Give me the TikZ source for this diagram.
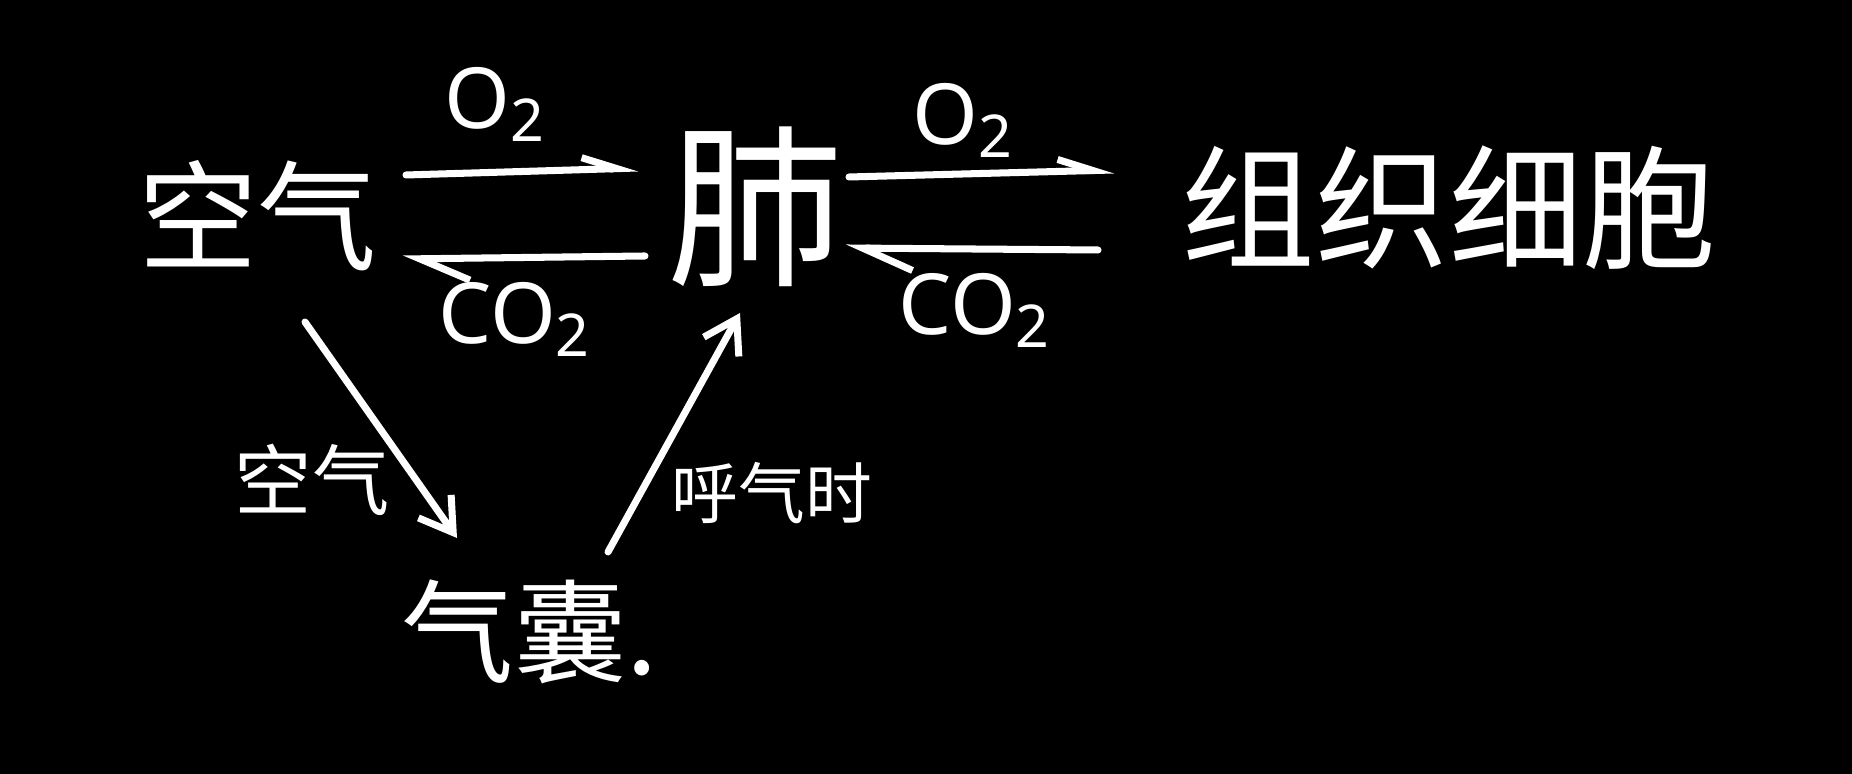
\documentclass[tikz,border=0pt]{standalone}
\usepackage{fontspec}
\usepackage{xcolor}
\usetikzlibrary{arrows.meta}
\setmainfont{Noto Sans}
\newfontfamily\cjk{Noto Sans CJK SC}
\definecolor{board}{HTML}{000000}
\definecolor{chalk}{HTML}{FFFFFF}

\begin{document}
\begin{tikzpicture}[every node/.style={text=chalk, inner sep=0pt},
  word/.style={font=\cjk\fontsize{34pt}{40pt}\selectfont},
  note/.style={font=\cjk\fontsize{19pt}{24pt}\selectfont},
  gas/.style={font=\fontsize{24pt}{28pt}\selectfont},
  line/.style={draw=chalk, line width=2pt, line cap=round, line join=round},
  fwd/.style={line, -{Straight Barb[left, length=3.5mm, width=2.4mm]}},
  back/.style={line, -{Straight Barb[left, length=5mm, width=4.4mm]}},
  flow/.style={line, -{Straight Barb[length=3.2mm, width=4mm]}}]
  \fill[board] (0,0) rectangle (18.52,7.74);
  \useasboundingbox (0,0) rectangle (18.52,7.74);

  % main chain
  \node[word] (air) at (2.58,5.58) {空气};
  \node[word, font=\cjk\fontsize{50pt}{54pt}\selectfont] (lung) at (7.55,5.67) {肺};
  \node[word, font=\cjk\fontsize{38pt}{42pt}\selectfont] (cell) at (14.49,5.66) {组织细胞};
  \node[word, font=\cjk\fontsize{32pt}{36pt}\selectfont] (sac) at (5.30,1.42) {气囊.};

  % gases
  \node[gas] (o2a) at (4.95,6.70) {O\textsubscript{2}};
  \node[gas] (co2a) at (5.15,4.55) {CO\textsubscript{2}};
  \node[gas] (o2b) at (9.63,6.54) {O\textsubscript{2}};
  \node[gas] (co2b) at (9.75,4.64) {CO\textsubscript{2}};

  % side notes
  \node[note, font=\cjk\fontsize{22pt}{26pt}\selectfont] (inhale) at (3.12,2.94) {空气};
  \node[note] (exhale) at (7.72,2.81) {呼气时};

  \draw[fwd] ([shift={(1.48,0.41)}]air.center) -- ([shift={(-1.17,0.39)}]lung.center);
  \draw[back] ([shift={(-1.10,-0.49)}]lung.center) -- ([shift={(1.45,-0.43)}]air.center);
  \draw[fwd] ([shift={(0.94,0.30)}]lung.center) -- ([shift={(-3.35,0.38)}]cell.center);
  \draw[back] ([shift={(-3.51,-0.42)}]cell.center) -- ([shift={(0.91,-0.41)}]lung.center);

  \draw[flow] ([shift={(0.47,-1.06)}]air.center) -- ([shift={(-0.73,0.94)}]sac.center);
  \draw[flow] ([shift={(0.78,0.80)}]sac.center) -- ([shift={(-0.15,-1.06)}]lung.center);
\end{tikzpicture}
\end{document}
